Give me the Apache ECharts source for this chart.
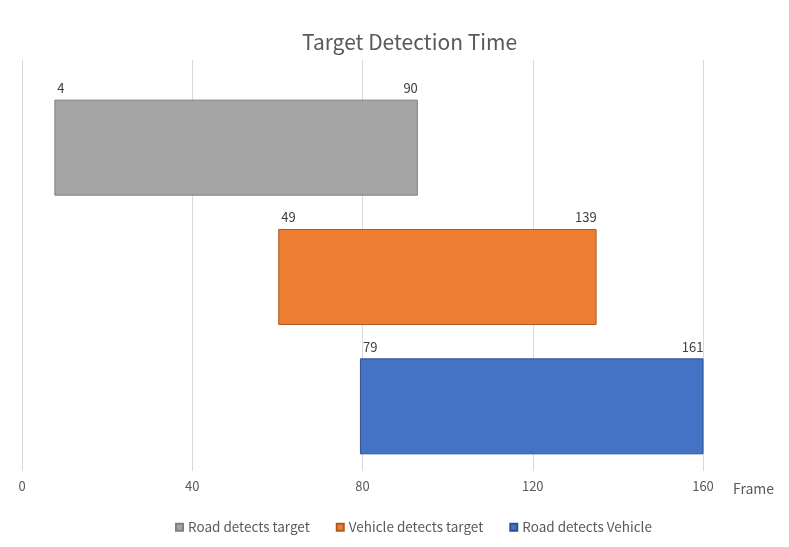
<!DOCTYPE html>
<html>
<head>
<meta charset="utf-8">
<script src="https://cdn.jsdelivr.net/npm/echarts@6/dist/echarts.min.js"></script>
<style>
    html, body {margin: 0; padding: 0; background: #fff;}
    #main {width: 789px; height: 547px;}
</style>
</head>
<body>
<div id="main"></div>
<script>
// 三个检测阶段
var categories = ['Road detects target', 'Vehicle detects target', 'Road detects Vehicle'];
// 条形的起止帧（按图上位置读取）
var starts = [7.6, 60.2, 79.4];
var ends = [93.0, 135.0, 160.4];
// 条形上标注的数字
var startLabels = ['4', '49', '79'];
var endLabels = ['90', '139', '161'];
var xTicks = [0, 40, 80, 120, 160];

var colors = ['#a5a5a5', '#ed7d31', '#4472c4'];
var borders = ['#7f7f7f', '#ae5a21', '#2f528f'];
var FONT = '"Noto Sans CJK SC", "Noto Sans", sans-serif';

var chart = echarts.init(document.getElementById('main'));

// 透明的底座，用来把条形推到起点
var series = [{
    name: 'base',
    type: 'bar',
    stack: 'span',
    barWidth: 96,
    silent: true,
    itemStyle: {color: 'transparent'},
    label: {
        show: true,
        position: ['100%', 0],
        align: 'left',
        verticalAlign: 'bottom',
        offset: [3, -5],
        fontFamily: FONT,
        fontSize: 13,
        color: '#404040',
        formatter: function (p) {
            return startLabels[p.dataIndex];
        }
    },
    data: starts
}];

categories.forEach(function (name, i) {
    var data = categories.map(function (c, j) {
        return j === i ? +(ends[j] - starts[j]).toFixed(2) : '-';
    });
    series.push({
        name: name,
        type: 'bar',
        stack: 'span',
        itemStyle: {color: colors[i], borderColor: borders[i], borderWidth: 1},
        label: {
            show: true,
            position: ['100%', 0],
            align: 'right',
            verticalAlign: 'bottom',
            offset: [0, -5],
            fontFamily: FONT,
            fontSize: 13,
            color: '#404040',
            formatter: function (p) {
                return endLabels[p.dataIndex];
            }
        },
        data: data
    });
});

var xMin = xTicks[0];
var xMax = xTicks[xTicks.length - 1];
var xStep = xTicks[1] - xTicks[0];

var option = {
    animation: false,
    title: {
        text: 'Target Detection Time',
        left: 297,
        top: 27,
        textStyle: {fontFamily: FONT, fontSize: 21, fontWeight: 'normal', color: '#595959'}
    },
    legend: {
        data: categories,
        bottom: 8,
        left: 170,
        icon: 'rect',
        itemWidth: 7,
        itemHeight: 7,
        itemGap: 26,
        textStyle: {fontFamily: FONT, fontSize: 13.5, color: '#595959', padding: [0, 0, 0, 0]}
    },
    // 第一个网格放条形，第二个网格只画网格线和刻度
    grid: [
        {left: 22, right: 86, top: 83, bottom: 76},
        {left: 22, right: 86, top: 60, bottom: 76}
    ],
    xAxis: [{
        type: 'value',
        gridIndex: 0,
        min: xMin,
        max: xMax,
        interval: xStep,
        axisLine: {show: false},
        axisTick: {show: false},
        axisLabel: {show: false},
        splitLine: {show: false}
    }, {
        type: 'value',
        gridIndex: 1,
        min: xMin,
        max: xMax,
        interval: xStep,
        name: 'Frame',
        nameLocation: 'end',
        nameGap: 30,
        nameTextStyle: {fontFamily: FONT, fontSize: 14, color: '#595959', verticalAlign: 'top', padding: [11, 0, 0, 0]},
        axisLine: {show: false},
        axisTick: {show: false},
        axisLabel: {fontFamily: FONT, fontSize: 13, color: '#595959', margin: 9},
        splitLine: {lineStyle: {color: '#d9d9d9'}}
    }],
    yAxis: [{
        type: 'category',
        gridIndex: 0,
        inverse: true,
        data: categories,
        axisLine: {show: false},
        axisTick: {show: false},
        axisLabel: {show: false}
    }, {
        type: 'value',
        gridIndex: 1,
        min: 0,
        max: 1,
        show: false
    }],
    series: series
};

chart.setOption(option);
</script>
</body>
</html>
